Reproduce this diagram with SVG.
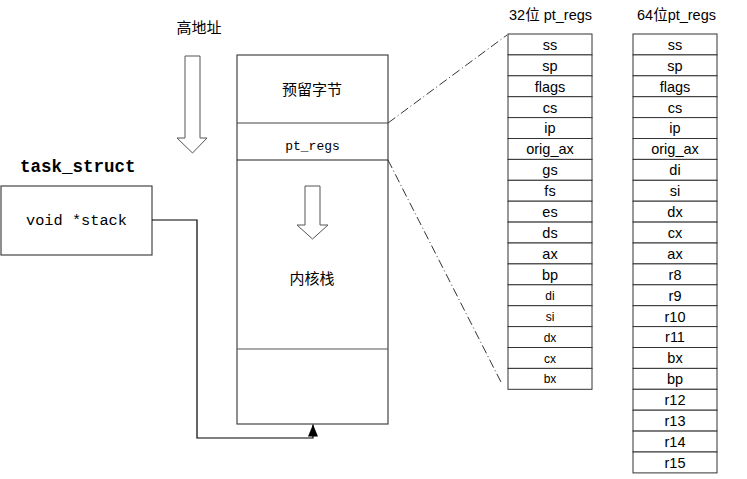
<svg xmlns="http://www.w3.org/2000/svg" width="747" height="479" viewBox="0 0 747 479">
<style>
.cjk{font-family:"Noto Sans CJK SC","Liberation Sans",sans-serif;font-size:15px;fill:#000;text-anchor:middle}
.mono{font-family:"Liberation Mono",monospace;fill:#000}
.reg{font-family:"Liberation Sans",Arial,sans-serif;font-size:14.5px;fill:#000;text-anchor:middle}
.sm{font-size:12px}
.hdr{font-family:"Liberation Sans","Noto Sans CJK SC",sans-serif;font-size:14.5px;fill:#000}
.box{fill:#fff;stroke:#444;stroke-width:1.2}
.cell{fill:#fff;stroke:#333;stroke-width:1}
.hollow{fill:#fff;stroke:#555;stroke-width:1}
.dd{fill:none;stroke:#333;stroke-width:1;stroke-dasharray:9,3,1,3}
</style>
<defs>
<marker id="ah" markerWidth="12" markerHeight="10" refX="12" refY="5" orient="auto" markerUnits="userSpaceOnUse" viewBox="0 0 12 10">
<path d="M0,0 L12,5 L0,10 Z" fill="#000"/>
</marker>
</defs>

<g id="high-address">
<text class="cjk" x="199" y="33">高地址</text>
<path class="hollow" d="M185,56 H200 V138 H207 L192.5,153 L177,138 H185 Z"/>
</g>

<g id="task_struct">
<text class="mono" x="20" y="172" font-size="17.5" font-weight="bold">task_struct</text>
<rect class="box" x="1" y="186" width="151" height="69"/>
<text class="mono" x="26" y="225" font-size="15.3">void *stack</text>
</g>

<g id="kernel-stack">
<rect class="box" x="237" y="55" width="151" height="369"/>
<line x1="237" y1="123" x2="388" y2="123" stroke="#444" stroke-width="1.2"/>
<line x1="237" y1="160" x2="388" y2="160" stroke="#222" stroke-width="1.2"/>
<line x1="237" y1="349" x2="388" y2="349" stroke="#555" stroke-width="1.2"/>
<text class="cjk" x="312" y="95">预留字节</text>
<text class="mono" x="312.5" y="150" font-size="13" text-anchor="middle">pt_regs</text>
<path class="hollow" d="M305,186 H320 V225 H328 L312.5,239 L297,225 H305 Z"/>
<text class="cjk" x="312" y="284">内核栈</text>
</g>

<g id="connectors">
<polyline points="152,220 197,220 197,438 313,438 313,424.5" fill="none" stroke="#000" stroke-width="1.2" marker-end="url(#ah)"/>
<line class="dd" x1="388" y1="123" x2="507" y2="35"/>
<line class="dd" x1="388" y1="160" x2="502" y2="384"/>
</g>

<g id="pt_regs32">
<text class="hdr" x="509" y="20">32位 pt_regs</text>
<rect class="cell" x="508" y="34" width="84" height="20.9"/>
<rect class="cell" x="508" y="54.9" width="84" height="20.9"/>
<rect class="cell" x="508" y="75.8" width="84" height="20.9"/>
<rect class="cell" x="508" y="96.7" width="84" height="20.9"/>
<rect class="cell" x="508" y="117.6" width="84" height="20.9"/>
<rect class="cell" x="508" y="138.5" width="84" height="20.9"/>
<rect class="cell" x="508" y="159.4" width="84" height="20.9"/>
<rect class="cell" x="508" y="180.3" width="84" height="20.9"/>
<rect class="cell" x="508" y="201.2" width="84" height="20.9"/>
<rect class="cell" x="508" y="222.1" width="84" height="20.9"/>
<rect class="cell" x="508" y="243" width="84" height="20.9"/>
<rect class="cell" x="508" y="263.9" width="84" height="20.9"/>
<rect class="cell" x="508" y="284.8" width="84" height="20.9"/>
<rect class="cell" x="508" y="305.7" width="84" height="20.9"/>
<rect class="cell" x="508" y="326.6" width="84" height="20.9"/>
<rect class="cell" x="508" y="347.5" width="84" height="20.9"/>
<rect class="cell" x="508" y="368.4" width="84" height="20.9"/>
<text class="reg" x="550" y="49.8">ss</text>
<text class="reg" x="550" y="70.7">sp</text>
<text class="reg" x="550" y="91.6">flags</text>
<text class="reg" x="550" y="112.5">cs</text>
<text class="reg" x="550" y="133.4">ip</text>
<text class="reg" x="550" y="154.3">orig_ax</text>
<text class="reg" x="550" y="175.2">gs</text>
<text class="reg" x="550" y="196.1">fs</text>
<text class="reg" x="550" y="217">es</text>
<text class="reg" x="550" y="237.9">ds</text>
<text class="reg" x="550" y="258.8">ax</text>
<text class="reg" x="550" y="279.7">bp</text>
<text class="reg sm" x="550" y="299.8">di</text>
<text class="reg sm" x="550" y="320.7">si</text>
<text class="reg sm" x="550" y="341.6">dx</text>
<text class="reg sm" x="550" y="362.5">cx</text>
<text class="reg sm" x="550" y="383.4">bx</text>
</g>

<g id="pt_regs64">
<text class="hdr" x="637" y="20">64位pt_regs</text>
<rect class="cell" x="633" y="34" width="84" height="20.9"/>
<rect class="cell" x="633" y="54.9" width="84" height="20.9"/>
<rect class="cell" x="633" y="75.8" width="84" height="20.9"/>
<rect class="cell" x="633" y="96.7" width="84" height="20.9"/>
<rect class="cell" x="633" y="117.6" width="84" height="20.9"/>
<rect class="cell" x="633" y="138.5" width="84" height="20.9"/>
<rect class="cell" x="633" y="159.4" width="84" height="20.9"/>
<rect class="cell" x="633" y="180.3" width="84" height="20.9"/>
<rect class="cell" x="633" y="201.2" width="84" height="20.9"/>
<rect class="cell" x="633" y="222.1" width="84" height="20.9"/>
<rect class="cell" x="633" y="243" width="84" height="20.9"/>
<rect class="cell" x="633" y="263.9" width="84" height="20.9"/>
<rect class="cell" x="633" y="284.8" width="84" height="20.9"/>
<rect class="cell" x="633" y="305.7" width="84" height="20.9"/>
<rect class="cell" x="633" y="326.6" width="84" height="20.9"/>
<rect class="cell" x="633" y="347.5" width="84" height="20.9"/>
<rect class="cell" x="633" y="368.4" width="84" height="20.9"/>
<rect class="cell" x="633" y="389.3" width="84" height="20.9"/>
<rect class="cell" x="633" y="410.2" width="84" height="20.9"/>
<rect class="cell" x="633" y="431.1" width="84" height="20.9"/>
<rect class="cell" x="633" y="452" width="84" height="20.9"/>
<text class="reg" x="675" y="49.8">ss</text>
<text class="reg" x="675" y="70.7">sp</text>
<text class="reg" x="675" y="91.6">flags</text>
<text class="reg" x="675" y="112.5">cs</text>
<text class="reg" x="675" y="133.4">ip</text>
<text class="reg" x="675" y="154.3">orig_ax</text>
<text class="reg" x="675" y="175.2">di</text>
<text class="reg" x="675" y="196.1">si</text>
<text class="reg" x="675" y="217">dx</text>
<text class="reg" x="675" y="237.9">cx</text>
<text class="reg" x="675" y="258.8">ax</text>
<text class="reg" x="675" y="279.7">r8</text>
<text class="reg" x="675" y="300.6">r9</text>
<text class="reg" x="675" y="321.5">r10</text>
<text class="reg" x="675" y="342.4">r11</text>
<text class="reg" x="675" y="363.3">bx</text>
<text class="reg" x="675" y="384.2">bp</text>
<text class="reg" x="675" y="405.1">r12</text>
<text class="reg" x="675" y="426">r13</text>
<text class="reg" x="675" y="446.9">r14</text>
<text class="reg" x="675" y="467.8">r15</text>
</g>
</svg>
